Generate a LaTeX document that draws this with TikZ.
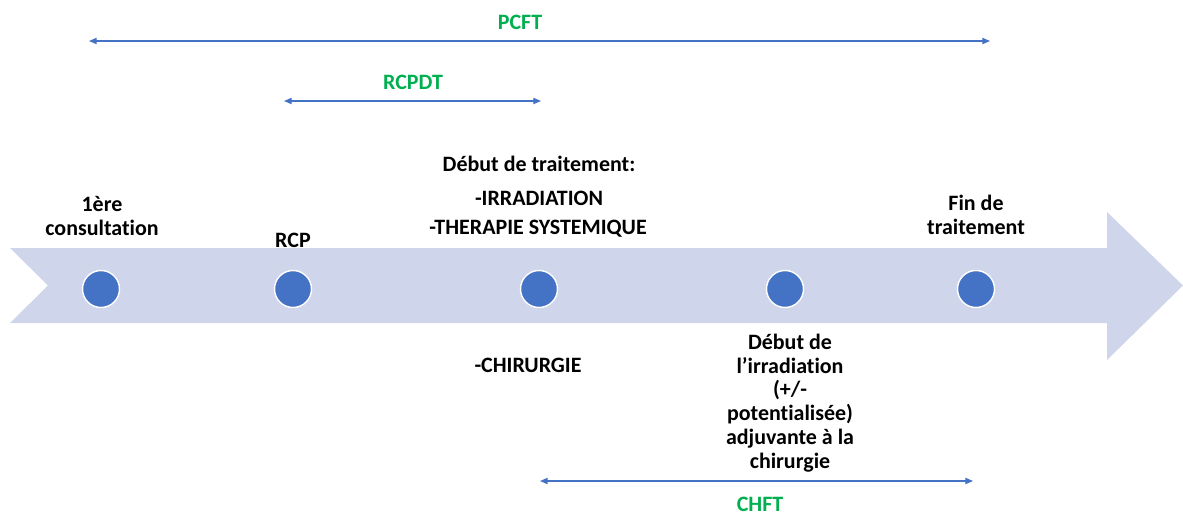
\documentclass[tikz,border=0pt]{standalone}
\usepackage{fontspec}
\setmainfont{Carlito}[Ligatures={TeX,NoCommon}]
\usepackage{xcolor}
\usetikzlibrary{positioning,arrows.meta}
\definecolor{bandblue}{HTML}{CFD5EA}
\definecolor{dotblue}{HTML}{4472C4}
\definecolor{spangreen}{HTML}{00B050}

\begin{document}
\begin{tikzpicture}[
    x=0.02cm, y=-0.02cm,
    node distance=0.2cm,
    dot/.style={
        circle,
        fill=dotblue,
        draw=white,
        line width=0.8pt,
        minimum size=0.74cm,
        inner sep=0pt
    },
    evtext/.style={
        align=center,
        inner sep=0pt,
        font=\bfseries\fontsize{12.5}{13.5}\selectfont
    },
    span/.style={
        {Triangle[length=4.4pt,width=3.6pt]}-{Triangle[length=4.4pt,width=3.6pt]},
        draw=dotblue,
        line width=0.7pt
    },
    spantext/.style={
        text=spangreen,
        inner sep=0pt,
        font=\bfseries\fontsize{12.5}{13.5}\selectfont
    }
]
\useasboundingbox (0,0) rectangle (1183,514);
% timeline band
\fill[bandblue] (10,248) -- (1107,248) -- (1107,212) -- (1183,285.5)
    -- (1107,360) -- (1107,323) -- (10,323) -- (48,285.5) -- cycle;
% milestones
\node[dot] (consult) at (101,289) {};
\node[dot] (rcp) at (293,289) {};
\node[dot] (start) at (539,289) {};
\node[dot] (adjuv) at (785,289) {};
\node[dot] (finish) at (976,289) {};
\node[evtext] (consultTxt) at (102,216) {1ère\\consultation};
\node[evtext] (rcpTxt) at (293,240) {RCP};
\node[evtext] (startTxt) at (539,164) {Début de traitement:};
\node[evtext] (irradTxt) at (539,198) {-IRRADIATION};
\node[evtext] (systTxt) at (538,229) {-THERAPIE SYSTEMIQUE};
\node[evtext] (chirTxt) at (528,365) {-CHIRURGIE};
\node[evtext] (adjuvTxt) at (790,403) {Début de\\l’irradiation\\(+/-\\potentialisée)\\adjuvante à la\\chirurgie};
\node[evtext] (finishTxt) at (976,215) {Fin de\\traitement};
% periods
\coordinate (pcftL) at (89,41);
\coordinate (pcftR) at (990,41);
\coordinate (rcpdtL) at (284,101);
\coordinate (rcpdtR) at (541,101);
\coordinate (chftL) at (540,481);
\coordinate (chftR) at (973,481);
\draw[span] (pcftL) -- (pcftR);
\draw[span] (rcpdtL) -- (rcpdtR);
\draw[span] (chftL) -- (chftR);
\node[spantext] (pcft) at (520,22) {PCFT};
\node[spantext] (rcpdt) at (413,82) {RCPDT};
\node[spantext] (chft) at (760,504) {CHFT};
\end{tikzpicture}
\end{document}
